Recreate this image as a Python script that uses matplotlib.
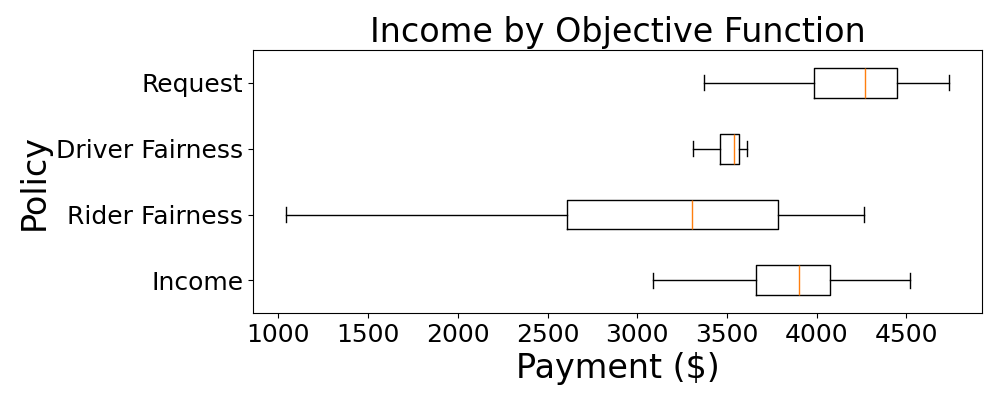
import matplotlib
matplotlib.use('Agg')
import matplotlib.pyplot as plt

# policies, bottom to top
policies = ['Income', 'Rider Fairness', 'Driver Fairness', 'Request']
whislo = [3089, 1043, 3312, 3370]
q1 = [3664, 2610, 3463, 3987]
med = [3904, 3306, 3539, 4272]
q3 = [4076, 3786, 3567, 4450]
whishi = [4523, 4262, 3610, 4737]

stats = []
for i in range(len(policies)):
    stats.append({'label': policies[i], 'whislo': whislo[i], 'q1': q1[i],
                  'med': med[i], 'q3': q3[i], 'whishi': whishi[i], 'fliers': []})

fig, ax = plt.subplots(figsize=(10, 4), dpi=100)
ax.bxp(stats, orientation='horizontal', showfliers=False)

ax.set_title('Income by Objective Function', fontsize=24)
ax.set_xlabel('Payment ($)', fontsize=24)
ax.set_ylabel('Policy', fontsize=24)
ax.tick_params(axis='both', labelsize=18)

plt.subplots_adjust(left=0.253, right=0.982, bottom=0.217, top=0.875)
plt.savefig('out.png')
